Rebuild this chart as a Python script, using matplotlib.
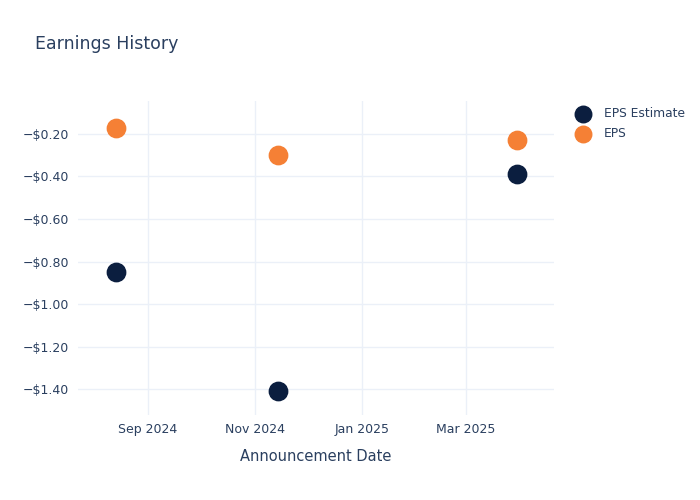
import matplotlib
matplotlib.use("Agg")
import matplotlib.pyplot as plt
import matplotlib.dates as mdates
from matplotlib.ticker import FuncFormatter
from datetime import datetime

# data
dates = [datetime(2024, 8, 14), datetime(2024, 11, 14), datetime(2025, 3, 30)]
eps_estimate = [-0.85, -1.41, -0.39]
eps_actual = [-0.17, -0.30, -0.23]

text_color = "#2a3f5f"
grid_color = "#ebf0f8"

fig = plt.figure(figsize=(7, 5), dpi=100)
ax = fig.add_axes([0.111, 0.17, 0.68, 0.628])

ax.scatter(dates, eps_estimate, s=175, color="#0b1e3f", label="EPS Estimate", zorder=3)
ax.scatter(dates, eps_actual, s=175, color="#f58035", label="EPS", zorder=3)

ax.set_xlim(datetime(2024, 7, 23), datetime(2025, 4, 20))
ax.set_ylim(-1.522, -0.045)

ax.xaxis.set_major_locator(mdates.MonthLocator(bymonth=[1, 3, 5, 7, 9, 11]))
ax.xaxis.set_major_formatter(mdates.DateFormatter("%b %Y"))
ax.set_yticks([-1.4, -1.2, -1.0, -0.8, -0.6, -0.4, -0.2])

def money(v, pos):
    if v < 0:
        return "\u2212$%.2f" % abs(v)
    return "$%.2f" % v

ax.yaxis.set_major_formatter(FuncFormatter(money))

ax.grid(True, color=grid_color, linewidth=1)
ax.set_axisbelow(True)
for sp in ax.spines.values():
    sp.set_visible(False)
ax.tick_params(length=0, colors=text_color, labelsize=9, pad=6)

ax.set_xlabel("Announcement Date", color=text_color, fontsize=10.5, labelpad=9)

fig.text(0.05, 0.912, "Earnings History", color=text_color, fontsize=12.5,
         ha="left", va="center")

fig.legend(loc="upper left", bbox_to_anchor=(0.800, 0.808), frameon=False,
           fontsize=8.8, labelcolor=text_color, handletextpad=0.7,
           labelspacing=0.55, markerscale=0.9)

fig.savefig("out.png", dpi=100)
